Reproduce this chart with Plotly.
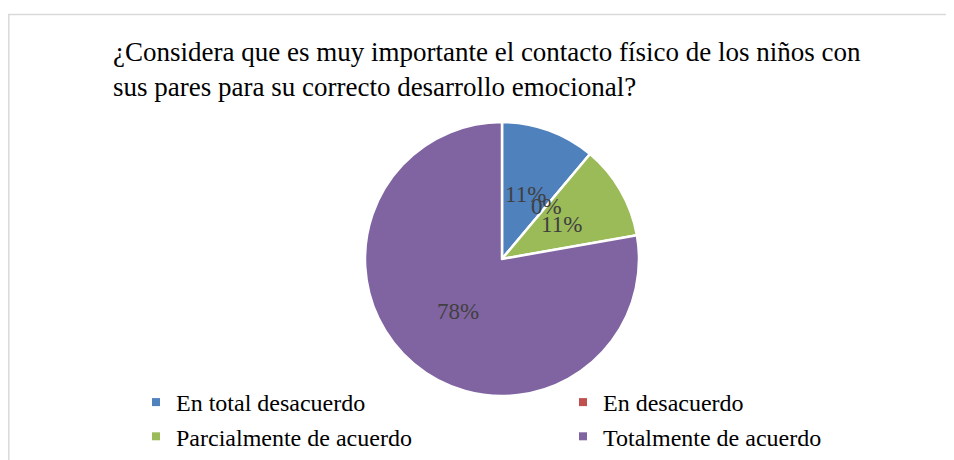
import math
import plotly.graph_objects as go

categories = ["En total desacuerdo", "En desacuerdo",
              "Parcialmente de acuerdo", "Totalmente de acuerdo"]
counts = [1, 0, 1, 7]
colors = ["#4F81BD", "#C0504D", "#9BBB59", "#8064A2"]
legend_column = ["legend", "legend2", "legend", "legend2"]
title_text = ("¿Considera que es muy importante el contacto físico de los niños con<br>"
              "sus pares para su correcto desarrollo emocional?")

W, H = 954, 460
OFF = 8  # the page body adds an 8px margin; place things in screen pixels
FONT = "Liberation Serif, Times New Roman, serif"


def px(x):
    return (x - OFF) / W


def py(y):
    return 1 - (y - OFF) / H


# pie geometry (screen pixels)
cx, cy, r = 502, 259, 137

fig = go.Figure()
fig.add_trace(go.Pie(
    labels=categories, values=counts, sort=False, direction="clockwise",
    rotation=0, marker=dict(colors=colors, line=dict(color="white", width=2.5)),
    textinfo="none", hoverinfo="label+percent", showlegend=False,
    domain=dict(x=[px(cx - r), px(cx + r)], y=[py(cy + r), py(cy - r)]),
))

# legend entries, two columns
for name, col, lg in zip(categories, colors, legend_column):
    fig.add_trace(go.Scatter(
        x=[None], y=[None], mode="markers", name=name, legend=lg,
        marker=dict(symbol="square", size=8, color=col),
    ))

# percentage labels at half radius on each slice's mid angle
total = sum(counts)
cum = 0
annotations = []
for v in counts:
    mid = (cum + v / 2) / total * 2 * math.pi
    cum += v
    annotations.append(dict(
        x=px(cx + 0.5 * r * math.sin(mid)), y=py(cy - 0.5 * r * math.cos(mid)),
        xref="paper", yref="paper",
        text=f"{round(100 * v / total)}%", showarrow=False,
        font=dict(family=FONT, size=23, color="#404040"),
    ))

legend_style = dict(orientation="v", xanchor="left", yanchor="top",
                    y=py(380), tracegroupgap=0,
                    font=dict(family=FONT, size=24, color="black"),
                    bgcolor="rgba(0,0,0,0)")

fig.update_layout(
    width=W, height=H,
    margin=dict(l=0, r=0, t=0, b=0, autoexpand=False),
    paper_bgcolor="white", plot_bgcolor="white",
    xaxis=dict(visible=False), yaxis=dict(visible=False),
    title=dict(text=title_text, x=px(113), xanchor="left",
               y=py(61), yanchor="top",
               font=dict(family=FONT, size=27, color="black")),
    legend=dict(x=px(136), **legend_style),
    legend2=dict(x=px(563), **legend_style),
    annotations=annotations,
    shapes=[
        dict(type="line", xref="paper", yref="paper",
             x0=0, x1=1, y0=py(14.5), y1=py(14.5),
             line=dict(color="#d9d9d9", width=1.5)),
        dict(type="line", xref="paper", yref="paper",
             x0=0.8 / W, x1=0.8 / W, y0=0, y1=py(14.5),
             line=dict(color="#d9d9d9", width=1.5)),
    ],
)

fig.write_html("out.html")
